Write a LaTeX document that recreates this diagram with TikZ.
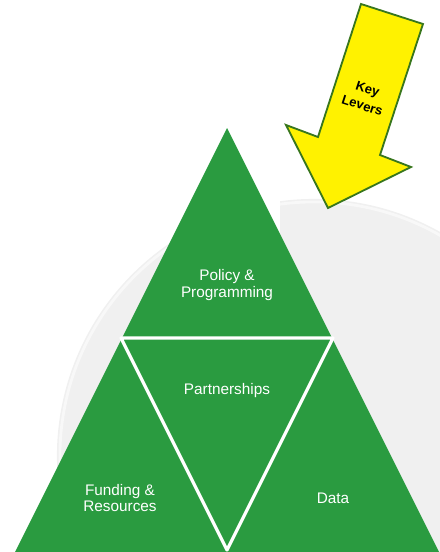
\documentclass[tikz,border=0pt]{standalone}
\usepackage{fontspec}
\setmainfont{Liberation Sans}
\definecolor{levergreen}{RGB}{42,155,64}
\definecolor{leveredge}{RGB}{56,118,29}
\definecolor{backgray}{RGB}{240,240,240}

\begin{document}
\begin{tikzpicture}[x=0.025cm, y=-0.025cm,
        levertext/.style={text=white, align=center, font=\fontsize{10.9}{11.8}\selectfont},
        keytext/.style={rotate=-18, align=center, inner sep=1pt, font=\bfseries\fontsize{9.3}{12.5}\selectfont},
        gap/.style={draw=white, line width=2.3pt, line join=round}]
        \useasboundingbox (0,0) rectangle (440,552);

        \coordinate (top) at (227,128);
        \coordinate (bl) at (13,556);
        \coordinate (br) at (441,556);
        \coordinate (ml) at (121,338);
        \coordinate (mr) at (333,338);
        \coordinate (mb) at (227,550);

        \fill[backgray] (314,456) circle [radius=6.425cm];
        \draw[white!55!backgray, line width=2pt] (314,456) circle [radius=6.35cm];
        \fill[white] (200,188) rectangle (280,236);

        \fill[levergreen] (top) -- (bl) -- (br) -- cycle;
        \draw[gap] (ml) -- (mr) -- (mb) -- cycle;

        \node[levertext] (policy) at (227,285) {Policy \&\\Programming};
        \node[levertext] (partner) at (227,391) {Partnerships};
        \node[levertext] (funding) at (120,498) {Funding \&\\Resources};
        \node[levertext] (data) at (333,498) {Data};

        \draw[leveredge, fill=yellow, line width=1.3pt] (361,4) -- (423,24) -- (380,155) -- (411,167)
            -- (328,208) -- (286,125) -- (318,137) -- cycle;
        \node[keytext] (key) at (365,97) {Key\\Levers};
    \end{tikzpicture}
\end{document}
